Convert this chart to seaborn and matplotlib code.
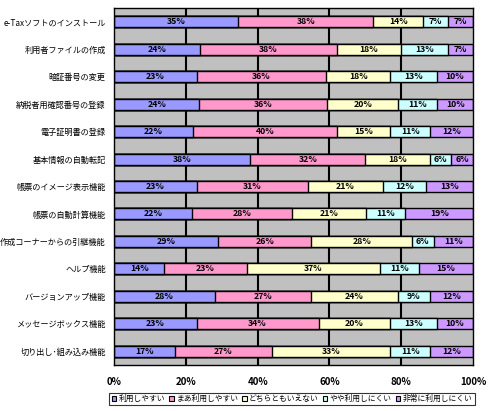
import matplotlib
matplotlib.use("Agg")
import matplotlib.pyplot as plt
from matplotlib.patches import Patch
import seaborn as sns
import pandas as pd
import numpy as np

items = ["e-Taxソフトのインストール", "利用者ファイルの作成", "暗証番号の変更", "納税者用確認番号の登録",
         "電子証明書の登録", "基本情報の自動転記", "帳票のイメージ表示機能", "帳票の自動計算機能",
         "作成コーナーからの引継機能", "ヘルプ機能", "バージョンアップ機能", "メッセージボックス機能",
         "切り出し･組み込み機能"]
series = ["利用しやすい", "まあ利用しやすい", "どちらともいえない", "やや利用しにくい", "非常に利用しにくい"]
v1 = [35, 24, 23, 24, 22, 38, 23, 22, 29, 14, 28, 23, 17]
v2 = [38, 38, 36, 36, 40, 32, 31, 28, 26, 23, 27, 34, 27]
v3 = [14, 18, 18, 20, 15, 18, 21, 21, 28, 37, 24, 20, 33]
v4 = [7, 13, 13, 11, 11, 6, 12, 11, 6, 11, 9, 13, 11]
v5 = [7, 7, 10, 10, 12, 6, 13, 19, 11, 15, 12, 10, 12]
xticks = [0, 20, 40, 60, 80, 100]
xticklabels = ["0%", "20%", "40%", "60%", "80%", "100%"]
colors = ["#9999FF", "#FF99CC", "#FFFFCC", "#CCFFFF", "#CC99FF"]

vals = np.array([v1, v2, v3, v4, v5], dtype=float)
norm = vals / vals.sum(axis=0) * 100
cum = np.cumsum(norm, axis=0)

plt.rcParams['font.family'] = ['Noto Sans CJK JP', 'DejaVu Sans']
fig = plt.figure(figsize=(5.0, 4.11), dpi=100)
ax = fig.add_axes([0.228, 0.112, 0.718, 0.8685])
ax.set_facecolor("#C0C0C0")

for x in [20, 40, 60, 80]:
    ax.axvline(x, color="black", lw=1.5, zorder=0.5)

for i in range(4, -1, -1):
    df = pd.DataFrame({"item": items, "cum": cum[i]})
    sns.barplot(data=df, x="cum", y="item", color=colors[i], width=0.4,
                edgecolor="black", linewidth=1, saturation=1, ax=ax, zorder=2)

for i in range(5):
    start = cum[i] - norm[i]
    for j in range(len(items)):
        ax.text(start[j] + norm[i][j] / 2, j, f"{int(vals[i][j])}%", ha="center", va="center",
                fontsize=6.3, fontweight="bold", color="black", zorder=3)

ax.set_xlim(0, 100)
ax.set_ylim(12.5, -0.5)
ax.set_xticks(xticks)
ax.set_xticklabels(xticklabels, fontsize=7, fontweight="bold")
ax.tick_params(axis="x", length=0, pad=9)
ax.tick_params(axis="y", length=0, pad=6, labelsize=5.9)
ax.set_xlabel("")
ax.set_ylabel("")
for s in ax.spines.values():
    s.set_color("black")
    s.set_linewidth(1)

handles = [Patch(facecolor=c, edgecolor="black", linewidth=0.8) for c in colors]
leg = fig.legend(handles, series, loc="center", bbox_to_anchor=(0.584, 0.029), ncol=5,
                 fontsize=5.6, frameon=True, fancybox=False, handlelength=0.6, handleheight=0.6,
                 handletextpad=0.3, columnspacing=0.5, borderpad=0.3, borderaxespad=0)
leg.get_frame().set_edgecolor("black")
leg.get_frame().set_linewidth(0.8)

fig.savefig("out.png", dpi=100)
